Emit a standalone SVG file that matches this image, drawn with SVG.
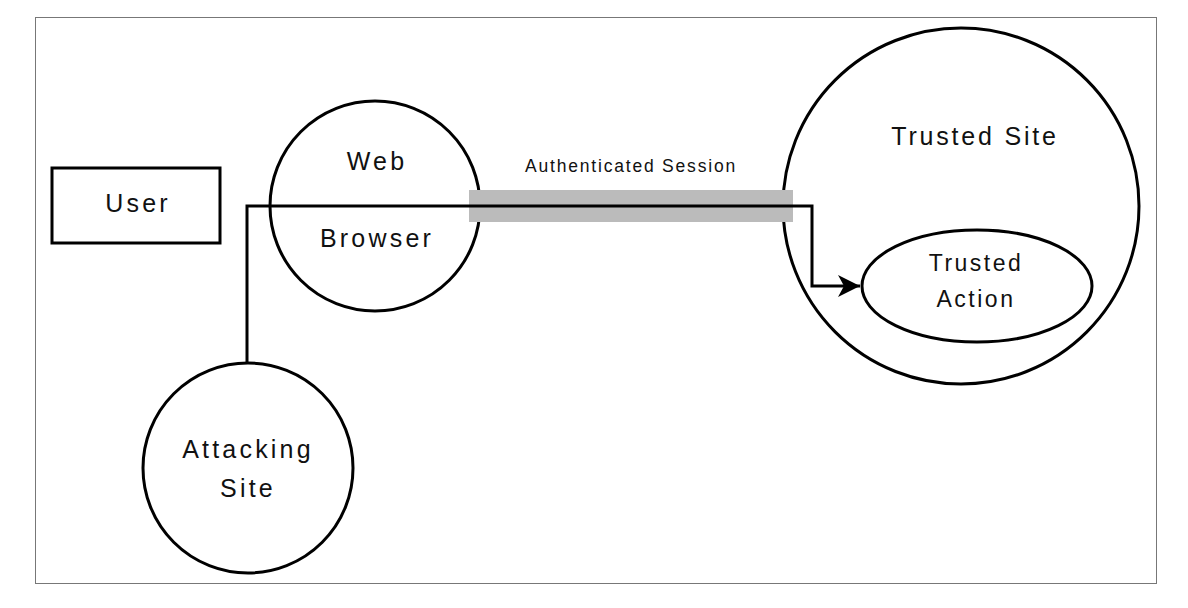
<svg xmlns="http://www.w3.org/2000/svg" width="1188" height="608" viewBox="0 0 1188 608">
<style>
.shape{fill:none;stroke:#000;stroke-width:3}
.lbl{font-family:"Liberation Sans",Arial,sans-serif;font-size:25px;letter-spacing:3.2px;fill:#111;text-anchor:middle}
.small{font-size:23px;letter-spacing:2.5px}
.ts{letter-spacing:2.8px}
.sess{font-family:"Liberation Sans",Arial,sans-serif;font-size:17.5px;letter-spacing:1.8px;fill:#111;text-anchor:middle}
.conn{fill:none;stroke:#000;stroke-width:3}
</style>
<defs>
<marker id="arr" markerUnits="userSpaceOnUse" markerWidth="24" markerHeight="24" refX="22" refY="12" orient="auto">
<path d="M0,1 L22,12 L0,23 L6,12 Z" fill="#000"/>
</marker>
</defs>
<rect x="0" y="0" width="1188" height="608" fill="#fff"/>
<rect x="35.5" y="17.5" width="1121" height="566" fill="none" stroke="#777" stroke-width="1"/>
<g id="user">
<rect class="shape" x="52" y="168" width="168" height="75"/>
<text class="lbl" x="138" y="212">User</text>
</g>
<g id="trusted-site">
<circle class="shape" cx="961" cy="206" r="178"/>
<text class="lbl ts" x="975" y="145">Trusted Site</text>
</g>
<g id="trusted-action">
<ellipse class="shape" cx="977" cy="286" rx="115" ry="56"/>
<text class="lbl small" x="976" y="271">Trusted</text>
<text class="lbl small" x="976" y="307">Action</text>
</g>
<g id="web-browser">
<circle class="shape" cx="375" cy="206" r="105"/>
<text class="lbl" x="377" y="170">Web</text>
<text class="lbl" x="377" y="247">Browser</text>
</g>
<g id="attacking-site">
<circle class="shape" cx="248" cy="468" r="105"/>
<text class="lbl" x="248" y="458">Attacking</text>
<text class="lbl" x="248" y="497">Site</text>
</g>
<g id="connectors">
<rect x="469" y="190" width="324" height="32" fill="#bbb"/>
<text class="sess" x="631" y="172">Authenticated Session</text>
<path class="conn" d="M247,363 V206 H812 V286 H860" marker-end="url(#arr)"/>
</g>
</svg>
